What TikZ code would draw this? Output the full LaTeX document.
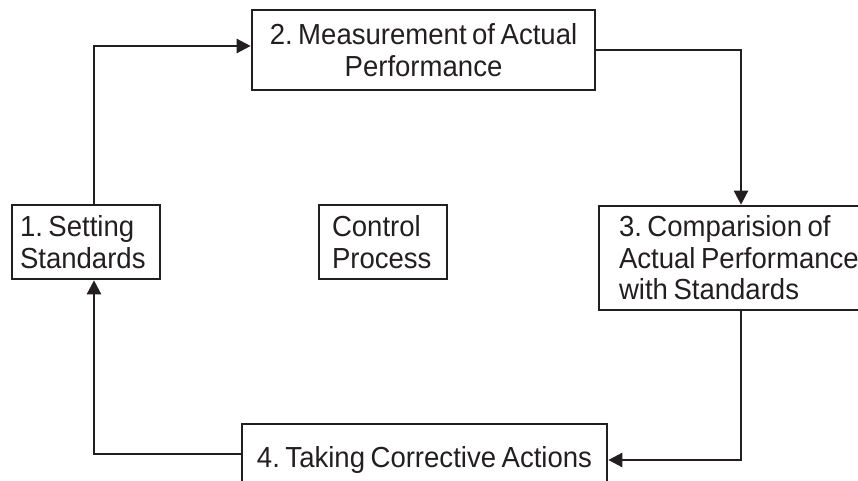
\documentclass[tikz,border=0pt]{standalone}
\usepackage{fontspec}
\setmainfont{Liberation Sans}[FakeStretch=0.95]
\usetikzlibrary{arrows.meta,calc}
\definecolor{ink}{HTML}{231F20}
\frenchspacing
\begin{document}
\begin{tikzpicture}[x=1pt,y=-1pt,
  every node/.style={font=\fontsize{29}{31.5}\selectfont, text=ink,
    execute at begin node={\spaceskip=0.19em\relax\xspaceskip=0.19em\relax}},
  stagebox/.style={draw=ink, line width=2.6pt, inner ysep=0pt, anchor=center},
  conn/.style={draw=ink, line width=2.4pt, -{Triangle[length=14pt,width=14pt]}}]
  \useasboundingbox (0,0) rectangle (858,481);
  % process stages
  \node[stagebox, text width=132pt, inner xsep=8pt, align=left, minimum height=74pt]
    (s1) at (86,242) {1. Setting\\Standards};
  \node[stagebox, text width=102pt, inner xsep=13pt, align=left, minimum height=74pt]
    (cp) at (383,242) {Control\\Process};
  \node[stagebox, text width=323pt, inner xsep=10pt, align=center, minimum height=80pt]
    (s2) at (423.5,50) {2. Measurement of Actual\\Performance};
  \node[stagebox, text width=250pt, inner xsep=20pt, align=left, minimum height=104pt]
    (s3) at (744,258) {3. Comparision of\\Actual Performance\\with Standards};
  \node[stagebox, minimum width=365pt, inner xsep=0pt, minimum height=72pt]
    (s4) at (424.5,460) {4. Taking Corrective Actions};
  % loop lines
  \coordinate (lx) at (94,0);
  \draw[conn] (s1.north -| lx) |- ([yshift=4pt]s2.west);
  \draw[conn] (s2.east) -| ([xshift=-3pt]s3.north);
  \draw[conn] ([xshift=-3pt]s3.south) |- (s4.east);
  \draw[conn] ([yshift=6pt]s4.west) -| (s1.south -| lx);
\end{tikzpicture}
\end{document}
